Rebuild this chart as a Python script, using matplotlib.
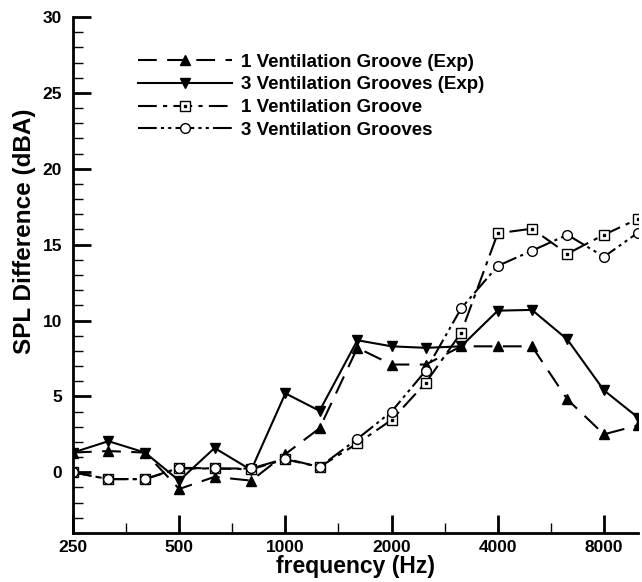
import numpy as np
import matplotlib
matplotlib.use("Agg")
import matplotlib.pyplot as plt
from matplotlib.ticker import FixedLocator, NullFormatter, MultipleLocator

plt.rcParams['font.family'] = ['Liberation Sans', 'DejaVu Sans']
plt.rcParams['font.weight'] = 'bold'

# 1/3 octave band centre frequencies (Hz)
freq = [250, 315, 400, 500, 630, 800, 1000, 1250, 1600, 2000,
        2500, 3150, 4000, 5000, 6300, 8000, 10000]

# measured SPL differences (dBA)
one_groove_exp = [1.3, 1.4, 1.3, -1.1, -0.3, -0.55, 1.2, 2.9, 8.2, 7.1,
                  7.1, 8.3, 8.3, 8.3, 4.8, 2.5, 3.1]
three_grooves_exp = [1.3, 2.05, 1.3, -0.55, 1.6, 0.15, 5.2, 4.05, 8.7, 8.3,
                     8.2, 8.3, 10.65, 10.7, 8.75, 5.4, 3.6]

# simulated SPL differences (dBA)
one_groove_sim = [0.0, -0.45, -0.45, 0.25, 0.25, 0.2, 0.85, 0.35, 1.9, 3.45,
                  5.9, 9.2, 15.75, 16.05, 14.4, 15.65, 16.7]
three_grooves_sim = [0.0, -0.45, -0.45, 0.3, 0.25, 0.25, 0.9, 0.35, 2.2, 4.0,
                     6.7, 10.8, 13.6, 14.6, 15.65, 14.2, 15.8]

x_ticks = [250, 500, 1000, 2000, 4000, 8000]
x_minor = [354, 707, 1414, 2828, 5657]

fig = plt.figure(figsize=(6.42, 5.82), dpi=100)
ax = fig.add_axes([0.1137, 0.0842, 0.8803, 0.8866])

h1, = ax.plot(freq, one_groove_exp, color='black', lw=1.5, dashes=(9, 5),
              marker='^', ms=7, mfc='black', mec='black')
h2, = ax.plot(freq, three_grooves_exp, color='black', lw=1.5, ls='-',
              marker='v', ms=7, mfc='black', mec='black')
h3, = ax.plot(freq, one_groove_sim, color='black', lw=1.5, dashes=(9, 3, 2, 3),
              marker='s', ms=6.5, mfc='white', mec='black', mew=1.0)
h3dot, = ax.plot(freq, one_groove_sim, ls='none', marker='s', ms=1.5,
                 mfc='black', mec='black')
h4, = ax.plot(freq, three_grooves_sim, color='black', lw=1.5,
              dashes=(9, 2, 1.5, 2, 1.5, 2),
              marker='o', ms=7, mfc='white', mec='black', mew=1.0)

ax.set_xscale('log')
ax.set_xlim(250, 10000)
ax.set_ylim(-4, 30)

ax.xaxis.set_major_locator(FixedLocator(x_ticks))
ax.xaxis.set_minor_locator(FixedLocator(x_minor))
ax.xaxis.set_minor_formatter(NullFormatter())
ax.set_xticklabels([str(t) for t in x_ticks])
ax.yaxis.set_major_locator(MultipleLocator(5))
ax.yaxis.set_minor_locator(MultipleLocator(1))
ax.set_yticks([0, 5, 10, 15, 20, 25, 30])

ax.spines['top'].set_visible(False)
ax.spines['right'].set_visible(False)
ax.spines['left'].set_linewidth(2)
ax.spines['bottom'].set_linewidth(2)

ax.tick_params(axis='both', which='major', direction='in', length=13,
               width=2, labelsize=12.5)
ax.tick_params(axis='both', which='minor', direction='in', length=7, width=1)
ax.tick_params(axis='x', which='major', pad=5)
ax.tick_params(axis='y', which='major', pad=8)

ax.set_xlabel('frequency (Hz)', fontsize=16.5, fontweight='bold', labelpad=0)
ax.set_ylabel('SPL Difference (dBA)', fontsize=17.5, fontweight='bold')
ax.yaxis.set_label_coords(-0.066, 0.585)

leg = ax.legend(handles=[h1, h2, (h3, h3dot), h4],
                labels=['1 Ventilation Groove (Exp)',
                        '3 Ventilation Grooves (Exp)',
                        '1 Ventilation Groove',
                        '3 Ventilation Grooves'],
                loc='upper left', bbox_to_anchor=(0.085, 0.962), frameon=False,
                handlelength=5.0, handletextpad=0.5, labelspacing=0.3,
                prop={'size': 13.5, 'weight': 'bold'})

fig.savefig('out.png', dpi=100)
